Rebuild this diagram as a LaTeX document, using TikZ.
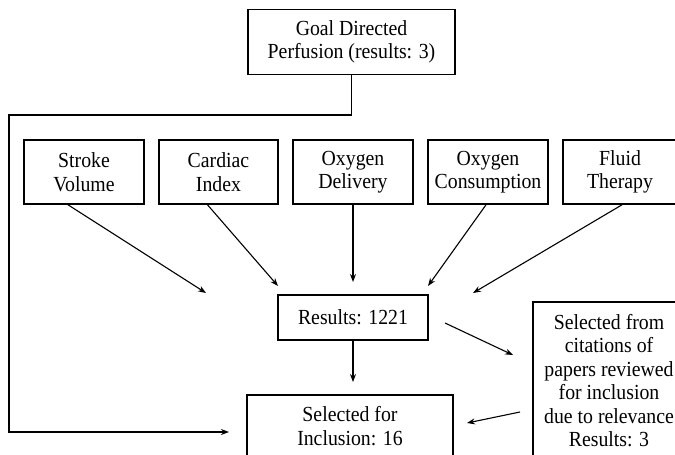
\documentclass[tikz,border=0pt]{standalone}
\usepackage{fontspec}
\setmainfont{Liberation Serif}[FakeStretch=0.92]
\usetikzlibrary{arrows.meta}
\begin{document}
\begin{tikzpicture}[
        x=1pt, y=-1pt,
        font=\fontsize{21.5}{23.5}\selectfont,
        kasten/.style={
            draw,
            line width=1.6pt,
            align=center,
            inner sep=0pt
        },
        pfeil/.style={
            -{Stealth[length=8pt,width=6pt]},
            line width=1.1pt
        }
    ]
    \useasboundingbox (0,0) rectangle (675,455);
    \clip (0,0) rectangle (675,455);
    % Kopf
    \node[kasten, minimum width=207pt, minimum height=65pt] (gdp) at (351.5,42)
        {Goal Directed\\Perfusion (results: 3)};
    % Suchbegriffe
    \node[kasten, minimum width=120pt, minimum height=64pt] (sv) at (84,172) {Stroke\\Volume};
    \node[kasten, minimum width=119pt, minimum height=64pt] (ci) at (218.5,172) {Cardiac\\Index};
    \node[kasten, minimum width=120pt, minimum height=64pt] (od) at (353,172) {Oxygen\\Delivery};
    \node[kasten, minimum width=120pt, minimum height=64pt] (oc) at (488,172) {Oxygen\\Consumption};
    \node[kasten, minimum width=114pt, minimum height=64pt] (ft) at (620,172) {Fluid\\Therapy};
    % Ergebnisse
    \node[kasten, minimum width=150pt, minimum height=45pt] (res) at (353,317.5) {Results: 1221};
    \node[kasten, minimum width=152pt, minimum height=162pt] (cit) at (609,383)
        {Selected from\\citations of\\papers reviewed\\for inclusion\\due to relevance\\Results: 3\rule[-5pt]{0pt}{5pt}};
    \node[kasten, minimum width=206pt, minimum height=62pt] (sel) at (350,426)
        {Selected for\\Inclusion: 16};
    % freie Pfeilenden
    \coordinate (sv-end) at (206,293);
    \coordinate (ci-end) at (278,286);
    \coordinate (od-end) at (353,282);
    \coordinate (oc-end) at (428,286);
    \coordinate (ft-end) at (473,293);
    \coordinate (res-aus) at (445,323);
    \coordinate (cit-end) at (513,355);
    \coordinate (cit-aus) at (520,412);
    \coordinate (sel-end) at (467,423);
    \coordinate (res-end) at (353,382);
    \coordinate (um-end) at (229,432);
    % Pfeile zu den Ergebnissen
    \draw[pfeil] ([xshift=-16pt]sv.south) -- (sv-end);
    \draw[pfeil] ([xshift=-11pt]ci.south) -- (ci-end);
    \draw[pfeil] (od.south) -- (od-end);
    \draw[pfeil] ([xshift=-2pt]oc.south) -- (oc-end);
    \draw[pfeil] ([xshift=2pt]ft.south) -- (ft-end);
    \draw[pfeil] (res.south) -- (res-end);
    \draw[pfeil] (res-aus) -- (cit-end);
    \draw[pfeil] (cit-aus) -- (sel-end);
    % Umweg vom Kopf
    \draw[pfeil, line width=1.4pt] (gdp.south) |- (9,115) |- (um-end);
\end{tikzpicture}
\end{document}
